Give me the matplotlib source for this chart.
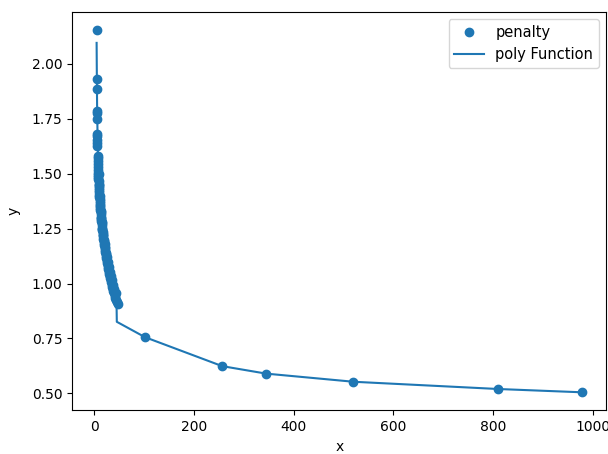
import matplotlib
matplotlib.use("Agg")
import matplotlib.pyplot as plt

# penalty samples (dense part at small x, then a few far points)
penalty_x = [5, 5, 5, 5.5, 5.5, 5.5, 6, 6, 6, 6.5, 6.5, 7, 7, 7, 7.5, 7.5,
             8, 8, 8, 8.5, 8.5, 9, 9, 9, 9.5, 10, 10, 10.5, 10.5, 11, 11, 11.5,
             12, 12, 12.5, 13, 13, 13.5, 14, 14.5, 15, 15.5, 16, 16.5, 17, 17.5,
             18, 18.5, 19, 19.5, 20, 21, 21.5, 22, 23, 24, 24.5, 25, 26, 27, 27.5,
             28, 29, 30, 31, 32, 33, 34, 35, 36, 37, 38.5, 40, 41, 42.5, 44, 45.5,
             47, 102, 257, 345, 520, 810, 978,
             # second run of samples, slightly to the right
             9, 10, 11, 12, 13, 14, 15, 16.5, 18, 19.5, 21, 22.5, 24, 26, 28,
             30, 32, 34, 36, 38, 40.5, 43]
penalty_y = [2.155, 1.93, 1.885, 1.785, 1.775, 1.75, 1.68, 1.67, 1.655, 1.64,
             1.625, 1.58, 1.57, 1.56, 1.545, 1.53, 1.515, 1.505, 1.495, 1.485,
             1.475, 1.465, 1.455, 1.445, 1.435, 1.425, 1.415, 1.405, 1.395, 1.385,
             1.375, 1.365, 1.355, 1.345, 1.335, 1.325, 1.315, 1.305, 1.295, 1.285,
             1.275, 1.265, 1.255, 1.245, 1.235, 1.225, 1.215, 1.205, 1.195, 1.185,
             1.175, 1.165, 1.155, 1.145, 1.135, 1.125, 1.115, 1.105, 1.095, 1.085,
             1.075, 1.065, 1.055, 1.045, 1.035, 1.025, 1.015, 1.005, 0.995, 0.985,
             0.975, 0.965, 0.955, 0.945, 0.935, 0.925, 0.915, 0.905, 0.756, 0.624,
             0.590, 0.553, 0.520, 0.505,
             1.50, 1.45, 1.40, 1.36, 1.33, 1.30, 1.28, 1.25, 1.22, 1.20, 1.18,
             1.16, 1.14, 1.12, 1.10, 1.075, 1.055, 1.035, 1.015, 0.995, 0.975,
             0.955]

# fitted curve
poly_x = [5, 5.5, 6, 7, 8, 10, 12, 15, 20, 25, 30, 35, 40, 45, 45.5,
          102, 257, 345, 520, 810, 978]
poly_y = [2.096, 1.93, 1.80, 1.66, 1.56, 1.43, 1.34, 1.25, 1.15, 1.08, 1.03,
          0.98, 0.94, 0.90, 0.826, 0.756, 0.624, 0.590, 0.553, 0.520, 0.505]

fig, ax = plt.subplots(figsize=(6.08, 4.54), dpi=100)
fig.subplots_adjust(left=0.119, right=0.997, top=0.974, bottom=0.096)

ax.plot(penalty_x, penalty_y, "o", label="penalty")
ax.plot(poly_x, poly_y, "-", color="C0", label="poly Function")

ax.set_xlabel("x")
ax.set_ylabel("y", labelpad=8)
ax.legend(fontsize=10.5)

fig.savefig("out.png")
